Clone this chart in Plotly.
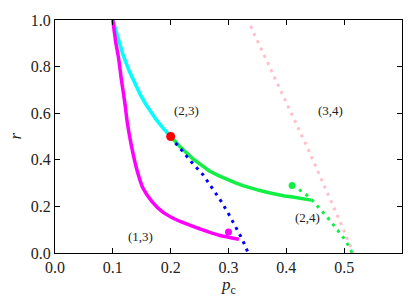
import plotly.graph_objects as go

# ---- data ----
cyan_p = [0.100, 0.109, 0.118, 0.128, 0.138, 0.147, 0.157, 0.166, 0.175, 0.188, 0.200]
cyan_r = [1.000, 0.918, 0.848, 0.783, 0.727, 0.682, 0.638, 0.603, 0.572, 0.533, 0.500]

magenta_p = [0.100, 0.105, 0.110, 0.115, 0.121, 0.125, 0.132, 0.141, 0.152, 0.167, 0.187, 0.207,
             0.224, 0.250, 0.284, 0.318]
magenta_r = [1.000, 0.905, 0.835, 0.740, 0.640, 0.560, 0.462, 0.363, 0.279, 0.223, 0.174, 0.146,
             0.128, 0.104, 0.076, 0.059]

green_p = [0.200, 0.219, 0.238, 0.253, 0.267, 0.282, 0.296, 0.311, 0.325, 0.339, 0.353, 0.368, 0.382,
           0.397, 0.411, 0.427, 0.443]
green_r = [0.500, 0.449, 0.405, 0.376, 0.352, 0.333, 0.317, 0.302, 0.289, 0.278, 0.269, 0.260, 0.251,
           0.245, 0.240, 0.233, 0.227]

blue_p = [0.200, 0.207, 0.222, 0.236, 0.256, 0.272, 0.287, 0.302, 0.315, 0.324, 0.334]
blue_r = [0.500, 0.476, 0.433, 0.390, 0.336, 0.280, 0.223, 0.160, 0.100, 0.058, 0.000]

green_dot_p = [0.422, 0.434, 0.445, 0.454, 0.463, 0.471, 0.480, 0.490, 0.500, 0.507, 0.514]
green_dot_r = [0.272, 0.251, 0.226, 0.202, 0.174, 0.153, 0.125, 0.093, 0.062, 0.033, 0.000]

pink_p = [0.338, 0.393, 0.436, 0.491, 0.516]
pink_r = [0.975, 0.680, 0.455, 0.146, 0.000]

red_pt = ([0.200], [0.500])
green_pt = ([0.410], [0.290])
magenta_pt = ([0.300], [0.090])

labels = ["(2, 3)", "(3, 4)", "(1, 3)", "(2, 4)"]
label_p = [0.227, 0.477, 0.147, 0.436]
label_r = [0.610, 0.610, 0.072, 0.153]

x_ticks = [0.0, 0.1, 0.2, 0.3, 0.4, 0.5]
y_ticks = [0.0, 0.2, 0.4, 0.6, 0.8, 1.0]

CYAN = "#00FFFF"
MAGENTA = "#FF00FF"
GREEN = "#11EE44"
BLUE = "#0000FF"
PINK = "#FFC0CB"
RED = "#FF0000"
DOTS = "3px,5px"
FONT = "'Liberation Serif', 'DejaVu Serif', serif"
TXT = "#222222"

fig = go.Figure()
fig.add_trace(go.Scatter(x=pink_p, y=pink_r, mode="lines", line=dict(color=PINK, width=3, dash=DOTS)))
fig.add_trace(go.Scatter(x=cyan_p, y=cyan_r, mode="lines", line=dict(color=CYAN, width=3.5)))
fig.add_trace(go.Scatter(x=magenta_p, y=magenta_r, mode="lines",
                         line=dict(color=MAGENTA, width=3.5, shape="spline", smoothing=0.7)))
fig.add_trace(go.Scatter(x=green_p, y=green_r, mode="lines", line=dict(color=GREEN, width=3.5)))
fig.add_trace(go.Scatter(x=blue_p, y=blue_r, mode="lines", line=dict(color=BLUE, width=3, dash=DOTS)))
fig.add_trace(go.Scatter(x=green_dot_p, y=green_dot_r, mode="lines", line=dict(color=GREEN, width=3, dash=DOTS)))
fig.add_trace(go.Scatter(x=red_pt[0], y=red_pt[1], mode="markers", marker=dict(color=RED, size=9)))
fig.add_trace(go.Scatter(x=green_pt[0], y=green_pt[1], mode="markers", marker=dict(color=GREEN, size=7)))
fig.add_trace(go.Scatter(x=magenta_pt[0], y=magenta_pt[1], mode="markers", marker=dict(color=MAGENTA, size=7)))

for t, px, py in zip(labels, label_p, label_r):
    fig.add_annotation(x=px, y=py, text=t.replace(" ", ""), showarrow=False,
                       xanchor="center", yanchor="middle",
                       font=dict(family=FONT, size=13, color=TXT))

# axis titles placed as annotations
fig.add_annotation(xref="paper", yref="paper", x=0.5, y=-0.14, text="<i>p</i><sub>c</sub>",
                   xanchor="center", yanchor="middle",
                   showarrow=False, font=dict(family=FONT, size=17, color=TXT))
fig.add_annotation(xref="paper", yref="paper", x=-0.115, y=0.5, text="<i>r</i>", textangle=-90,
                   xanchor="center", yanchor="middle",
                   showarrow=False, font=dict(family=FONT, size=17, color=TXT))

axis_common = dict(showline=True, linecolor="black", linewidth=1.2, mirror="ticks",
                   ticks="inside", ticklen=5, tickcolor="black", tickwidth=1,
                   showgrid=False, zeroline=False,
                   tickfont=dict(family=FONT, size=16, color=TXT))

fig.update_xaxes(range=[0, 0.6], tickvals=x_ticks, ticktext=[f"{v:.1f}" for v in x_ticks], **axis_common)
fig.update_yaxes(range=[0, 1.0], tickvals=y_ticks, ticktext=[f"{v:.1f}" for v in y_ticks], **axis_common)

fig.update_layout(width=415, height=302, showlegend=False,
                  margin=dict(l=55, r=12, t=16, b=49),
                  plot_bgcolor="white", paper_bgcolor="white")

fig.write_html("out.html", config={"displayModeBar": False})

# remove the default page margin so the figure sits at the window's top-left corner
with open("out.html", "r", encoding="utf-8") as f:
    html = f.read()
html = html.replace("<head>", "<head><style>html,body{margin:0;padding:0;overflow:hidden;}</style>", 1)
with open("out.html", "w", encoding="utf-8") as f:
    f.write(html)
